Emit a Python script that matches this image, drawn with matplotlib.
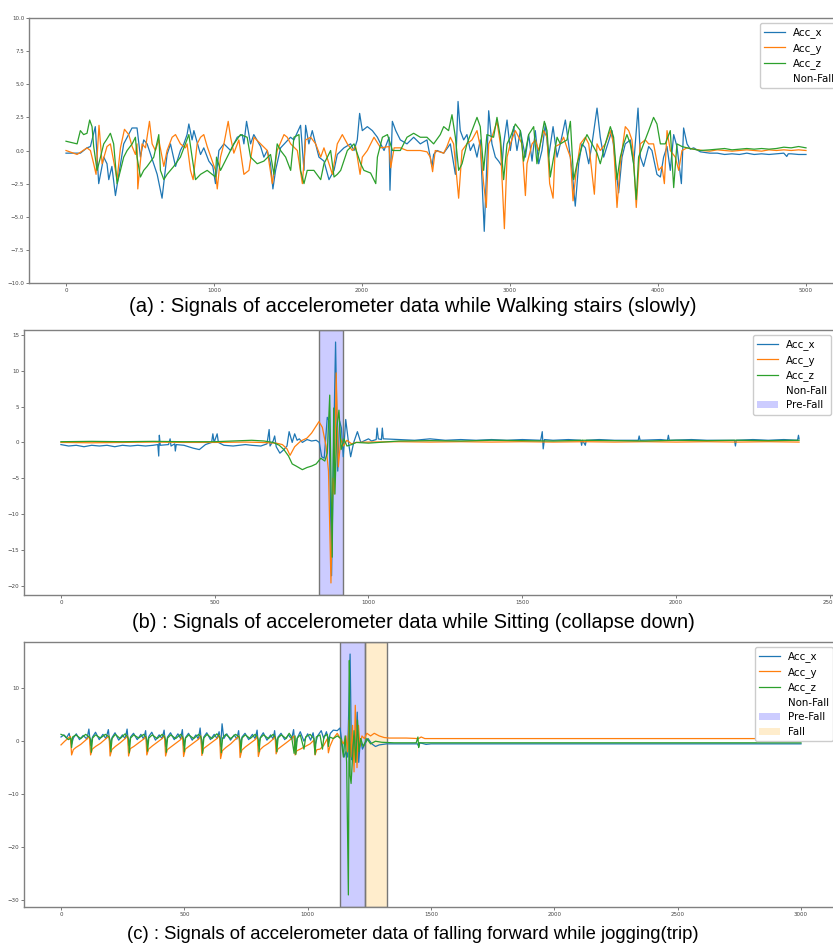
import matplotlib
matplotlib.use("Agg")
import matplotlib.pyplot as plt
from matplotlib.patches import Patch

# ---------------- Panel (a): Walking stairs (slowly) ----------------
A_ACC_X = [(0,-0.2),(97,-0.2),(142,0.2),(165,0.3),(198,1.8),(221,-2.5),(255,-0.5),(277,-1.0),(289,-2.2),
 (310,-1.2),(334,-3.4),(390,0.5),(446,1.7),(480,1.7),(503,-0.5),(525,0.8),(548,0.5),(616,-1.8),(649,-3.6),
 (683,-0.3),(706,0.5),(740,-1.2),(773,0.0),(796,0.5),(818,1.2),(830,2.0),(852,0.8),(864,1.5),(909,-0.3),
 (931,0.2),(965,-0.8),(992,-1.2),(1010,-2.5),(1033,0.0),(1067,0.5),(1112,0.0),(1157,1.0),(1191,1.2),
 (1202,0.5),(1220,2.2),(1247,0.5),(1269,1.2),(1315,0.3),(1337,-0.5),(1360,0.0),(1382,-1.0),(1398,-2.9),
 (1416,-1.5),(1450,0.2),(1517,1.0),(1540,0.8),(1585,1.9),(1608,-1.5),(1619,1.9),(1641,0.5),(1664,1.5),
 (1709,-0.5),(1743,-0.8),(1777,-2.2),(1811,-1.5),(1833,-0.3),(1878,0.2),(1923,0.5),(1946,0.0),(1968,0.8),
 (1984,2.8),(2002,1.5),(2036,1.8),(2070,1.5),(2104,1.0),(2126,0.5),(2149,0.0),(2183,1.0),(2189,-3.0),
 (2205,2.2),(2228,1.5),(2259,0.8),(2304,0.5),(2349,1.0),(2394,0.5),(2439,0.8),(2473,-1.2),(2484,-0.3),
 (2507,0.0),(2552,-0.2),(2597,0.5),(2631,-1.8),(2649,3.7),(2664,1.5),(2687,0.8),(2709,1.2),(2732,0.0),
 (2754,0.5),(2777,-0.5),(2799,0.8),(2826,-6.1),(2840,-2.0),(2856,3.0),(2878,0.5),(2901,-0.5),(2923,-0.8),
 (2946,-1.2),(2957,0.5),(2980,2.3),(3002,0.0),(3025,1.8),(3047,0.0),(3070,1.5),(3104,-0.5),(3126,1.2),
 (3149,-0.8),(3171,1.5),(3194,-1.0),(3216,0.0),(3239,2.0),(3261,-0.5),(3291,1.8),(3318,-0.5),(3340,0.5),
 (3374,2.3),(3396,0.5),(3419,-1.5),(3441,-4.2),(3464,-1.0),(3486,0.5),(3509,0.2),(3532,-1.0),(3554,0.5),
 (3588,3.2),(3610,1.0),(3633,-0.5),(3655,0.3),(3689,1.5),(3712,-1.0),(3734,-3.2),(3757,-0.5),(3779,0.5),
 (3813,0.8),(3836,-1.0),(3865,3.2),(3881,-0.5),(3903,-1.2),(3937,0.3),(3959,0.0),(3993,-1.8),(4016,-2.0),
 (4038,-0.5),(4061,0.3),(4083,-1.5),(4106,1.2),(4128,0.3),(4158,-2.5),(4173,1.7),(4196,0.5),(4218,0.1),
 (4241,0.2),(4286,-0.1),(4350,-0.2),(4400,-0.2),(4450,-0.3),(4500,-0.25),(4550,-0.3),(4600,-0.2),
 (4650,-0.3),(4700,-0.25),(4750,-0.3),(4800,-0.25),(4850,-0.2),(4870,-0.45),(4880,-0.25),(4900,-0.25),
 (4950,-0.3),(5000,-0.3)]

A_ACC_Y = [(0,0.0),(75,-0.3),(142,0.2),(165,0.0),(187,-1.0),(203,-1.8),(223,1.9),(244,-1.0),(277,0.3),
 (300,0.5),(334,-1.5),(345,-2.2),(368,0.2),(395,1.6),(424,1.2),(447,0.3),(469,-0.3),(480,0.5),(485,-2.9),
 (514,0.5),(537,0.2),(548,1.0),(564,2.2),(582,0.5),(604,0.0),(627,0.8),(649,-0.5),(661,-1.2),(683,0.0),
 (717,1.0),(740,1.2),(773,0.5),(807,0.2),(818,0.5),(841,-1.5),(859,-2.2),(886,0.5),(909,1.0),(931,1.2),
 (954,0.3),(1010,-1.5),(1022,-2.9),(1044,-0.5),(1067,0.5),(1096,2.2),(1112,1.0),(1134,-0.2),(1168,0.8),
 (1202,-1.8),(1236,-1.5),(1270,1.0),(1315,0.5),(1360,0.0),(1394,-2.5),(1427,0.0),(1473,1.2),(1495,1.0),
 (1518,0.5),(1563,0.0),(1597,-2.5),(1619,0.8),(1653,1.0),(1687,0.5),(1721,-0.5),(1743,0.2),(1777,-1.0),
 (1800,-1.8),(1833,0.5),(1867,1.2),(1901,0.5),(1935,0.0),(1957,0.3),(1987,-1.8),(2002,-0.5),(2036,0.0),
 (2081,1.0),(2126,0.2),(2183,0.3),(2194,-1.3),(2217,0.2),(2259,0.2),(2304,0.0),(2394,0.0),(2439,-0.1),
 (2461,-0.5),(2477,-1.6),(2495,0.0),(2552,-0.2),(2574,0.3),(2597,1.0),(2619,0.5),(2653,-3.6),(2676,0.0),
 (2709,0.5),(2743,0.8),(2777,1.5),(2799,0.3),(2822,-2.5),(2840,-4.3),(2856,0.5),(2878,1.0),(2912,2.2),
 (2935,0.5),(2962,-5.9),(2980,-0.5),(3002,0.5),(3036,1.5),(3059,1.0),(3081,0.5),(3104,-3.4),(3115,-1.0),
 (3149,0.5),(3171,0.8),(3194,0.0),(3227,1.5),(3250,1.0),(3268,-2.5),(3291,-3.6),(3306,0.3),(3340,0.5),
 (3362,1.0),(3385,0.2),(3408,-0.5),(3426,-3.8),(3448,-1.5),(3475,0.5),(3509,1.0),(3532,0.5),(3570,-3.3),
 (3588,0.5),(3610,0.0),(3644,0.5),(3678,1.5),(3700,0.5),(3723,-4.3),(3745,-1.0),(3779,1.8),(3802,1.5),
 (3824,0.8),(3835,-0.5),(3853,-4.3),(3880,0.5),(3914,0.8),(3937,0.5),(3970,0.5),(4004,-1.5),(4027,-1.2),
 (4043,-2.5),(4061,1.5),(4083,0.0),(4117,-0.5),(4140,-1.5),(4162,0.0),(4196,0.2),(4241,0.1),(4300,0.0),
 (4350,-0.05),(4400,0.05),(4450,0.0),(4500,-0.05),(4550,0.0),(4600,0.05),(4650,0.0),(4700,-0.05),
 (4750,0.05),(4800,0.0),(4850,0.05),(4900,0.0),(4950,0.05),(5000,0.0)]

A_ACC_Z = [(0,0.7),(75,0.5),(97,1.5),(119,1.2),(142,1.3),(160,2.3),(176,1.8),(187,0.3),(210,-1.5),(233,-0.5),
 (255,0.5),(273,0.8),(300,1.3),(322,0.5),(345,-2.5),(368,-1.5),(390,-0.5),(413,0.0),(447,0.5),(469,1.0),
 (480,-0.5),(503,-2.0),(525,-1.5),(548,-1.2),(593,-0.5),(627,1.2),(638,-1.5),(661,-2.2),(683,-1.8),
 (728,-1.2),(773,-0.5),(807,0.5),(830,1.2),(852,-0.5),(875,-2.2),(909,-1.8),(954,-1.5),(1010,-2.0),
 (1017,-0.5),(1044,-1.5),(1089,-0.5),(1134,0.5),(1179,1.2),(1224,1.0),(1247,-0.5),(1292,-1.0),(1337,-0.8),
 (1382,-0.3),(1405,-1.8),(1427,0.5),(1450,0.0),(1484,-0.5),(1518,-1.5),(1540,1.0),(1574,1.2),(1585,-1.5),
 (1608,-2.5),(1630,-1.5),(1675,-1.5),(1721,-2.2),(1743,-1.0),(1766,-0.5),(1788,0.0),(1811,-2.0),
 (1833,-1.8),(1856,-1.5),(1901,0.0),(1946,0.5),(1991,-1.0),(2013,-1.5),(2058,-1.7),(2093,-2.5),
 (2104,-0.5),(2138,1.0),(2172,1.2),(2206,0.0),(2259,0.0),(2304,1.0),(2349,1.3),(2394,1.0),(2439,1.0),
 (2484,0.5),(2529,1.2),(2552,1.8),(2585,1.5),(2608,2.7),(2631,1.0),(2653,-1.5),(2676,-1.0),(2709,0.5),
 (2743,1.5),(2777,2.5),(2799,1.8),(2822,-1.5),(2844,1.2),(2889,1.0),(2912,2.5),(2935,1.0),(2957,-2.2),
 (2980,0.5),(3002,1.0),(3036,2.0),(3070,1.5),(3092,-0.8),(3126,1.2),(3160,1.8),(3182,-1.0),(3205,0.5),
 (3232,2.2),(3250,1.5),(3272,-2.0),(3295,-0.5),(3318,1.0),(3340,0.5),(3385,0.8),(3408,2.2),(3430,-2.2),
 (3453,-1.0),(3486,0.3),(3520,1.2),(3554,0.5),(3588,-0.2),(3610,-1.0),(3644,0.5),(3678,1.8),(3700,1.0),
 (3723,-2.2),(3745,-0.5),(3768,0.5),(3790,1.2),(3813,0.5),(3835,-1.0),(3853,-3.7),(3869,-0.5),(3903,0.5),
 (3937,1.5),(3970,2.5),(3993,2.0),(4016,0.5),(4049,0.5),(4083,1.5),(4106,-2.8),(4128,0.5),(4162,0.3),
 (4196,0.2),(4241,0.1),(4286,0.0),(4350,0.05),(4400,0.1),(4450,0.15),(4500,0.05),(4550,0.1),(4600,0.15),
 (4650,0.1),(4700,0.15),(4750,0.1),(4800,0.15),(4850,0.25),(4900,0.2),(4950,0.3),(5000,0.2)]

# ---------------- Panel (b): Sitting (collapse down) ----------------
B_ACC_X = [(0,-0.3),(25,-0.5),(50,-0.4),(75,-0.6),(100,-0.4),(125,-0.5),(150,-0.4),(175,-0.6),(200,-0.4),
 (225,-0.5),(250,-0.4),(275,-0.5),(300,-0.4),(315,-0.3),(318,-1.9),(320,1.0),(323,-0.4),(350,-0.3),
 (355,0.5),(358,-0.5),(370,-0.2),(372,-1.2),(375,-0.3),(400,-0.4),(430,-0.8),(450,-1.0),(470,-0.3),
 (490,0.0),(494,1.2),(498,0.0),(508,1.2),(512,0.0),(530,-0.4),(560,-0.5),(600,-0.3),(620,-0.4),(650,-0.5),
 (670,-0.2),(677,1.8),(680,-0.5),(690,0.2),(695,0.9),(700,-0.6),(712,-1.5),(725,-1.0),(735,-0.5),(742,1.5),
 (752,0.0),(760,1.2),(768,0.3),(775,0.5),(785,0.0),(800,0.4),(815,0.2),(830,0.3),(840,0.0),(848,-2.0),
 (856,-2.2),(866,3.5),(872,3.0),(880,-18.6),(886,-2.0),(893,14.0),(900,-4.0),(906,3.0),(912,2.0),
 (918,-2.0),(926,3.2),(935,0.0),(942,-2.0),(952,0.0),(964,1.5),(975,0.0),(990,0.3),(1000,0.5),(1010,0.2),
 (1025,0.4),(1028,2.0),(1032,0.5),(1042,0.4),(1045,2.0),(1048,0.5),(1100,0.4),(1150,0.3),(1200,0.5),
 (1250,0.3),(1300,0.4),(1350,0.3),(1400,0.4),(1450,0.3),(1500,0.4),(1560,0.3),(1565,1.5),(1568,-0.9),
 (1572,0.4),(1600,0.3),(1650,0.4),(1690,0.3),(1693,-0.4),(1696,0.3),(1705,-0.4),(1708,0.3),(1750,0.4),
 (1800,0.3),(1877,0.3),(1880,0.9),(1883,0.3),(1950,0.4),(1972,0.3),(1975,1.0),(1978,0.3),(2050,0.4),
 (2100,0.3),(2190,0.3),(2193,-0.5),(2196,0.3),(2250,0.4),(2300,0.3),(2350,0.4),(2395,0.3),(2398,1.0),
 (2400,0.5)]

B_ACC_Y = [(0,0.0),(100,-0.05),(200,0.0),(300,0.05),(400,0.0),(500,0.0),(600,0.05),(650,0.0),(700,-0.1),
 (720,-0.3),(735,-0.9),(745,-1.8),(760,-0.6),(780,0.2),(800,0.6),(815,1.3),(830,2.3),(839,2.9),(850,2.1),
 (862,-0.5),(870,-4.0),(878,-19.6),(884,-5.0),(889,-7.2),(895,9.7),(902,-3.4),(910,0.5),(918,-0.5),
 (930,0.3),(945,-0.2),(960,0.0),(1000,0.05),(1100,0.1),(1200,0.05),(1300,0.1),(1400,0.05),(1500,0.1),
 (1600,0.05),(1700,0.1),(1800,0.05),(1900,0.1),(2000,0.05),(2100,0.1),(2200,0.05),(2300,0.1),(2400,0.05)]

B_ACC_Z = [(0,0.1),(100,0.15),(200,0.1),(300,0.15),(400,0.1),(500,0.1),(560,0.2),(620,0.3),(660,0.2),
 (690,0.0),(710,-0.4),(725,-1.0),(740,-1.9),(752,-3.0),(765,-3.3),(785,-3.8),(800,-3.5),(815,-3.3),
 (830,-3.0),(845,-2.2),(858,-2.6),(866,-1.5),(874,6.6),(878,-5.0),(882,-16.0),(887,4.8),(891,-7.2),
 (897,2.0),(904,4.5),(911,-1.0),(920,0.5),(930,-0.5),(945,-0.3),(960,0.0),(1000,-0.1),(1050,0.05),
 (1100,0.2),(1200,0.25),(1300,0.2),(1400,0.3),(1500,0.25),(1600,0.2),(1700,0.3),(1800,0.25),(1900,0.2),
 (2000,0.3),(2100,0.25),(2200,0.3),(2300,0.25),(2400,0.3)]

B_PREFALL = (840, 918)

# ---------------- Panel (c): falling forward while jogging (trip) ----------------
C_ACC_X = [(0,0.8),(12,1.2),(22,0.6),(33,1.5),(43,-0.6),(50,0.6),(62,1.4),(75,0.3),(90,1.1),(105,0.4),
 (113,2.3),(120,-0.8),(128,0.8),(140,1.7),(155,0.3),(170,1.3),(182,0.5),(192,2.2),(199,-0.9),(207,0.7),
 (219,1.6),(234,0.2),(249,1.2),(260,0.5),(268,2.3),(274,-0.8),(282,0.8),(294,1.5),(309,0.3),(324,1.3),
 (335,0.4),(343,2.0),(348,-0.7),(356,0.9),(368,1.7),(383,0.2),(398,1.2),(410,0.5),(418,2.1),(424,-1.0),
 (432,0.8),(444,1.6),(459,0.3),(474,1.4),(485,0.5),(492,2.2),(497,-0.8),(505,0.7),(517,1.5),(532,0.2),
 (547,1.2),(557,0.4),(564,2.5),(571,-1.2),(579,0.8),(591,1.6),(606,0.3),(621,1.3),(633,0.5),(641,1.8),
 (647,-1.0),(653,3.3),(660,0.5),(672,1.4),(687,0.2),(702,1.2),(713,0.4),(720,2.0),(726,-0.9),(734,0.8),
 (746,1.5),(761,0.3),(776,1.3),(787,0.5),(795,2.1),(800,-0.8),(808,0.7),(820,1.6),(835,0.2),(850,1.2),
 (860,0.4),(866,2.0),(872,-0.7),(880,0.8),(892,1.5),(907,0.3),(922,1.2),(935,0.4),(943,2.2),(949,-1.5),
 (957,0.5),(970,1.8),(985,0.0),(1000,1.4),(1012,0.2),(1022,1.6),(1030,-0.8),(1040,1.0),(1055,2.0),
 (1065,0.5),(1076,1.8),(1084,0.2),(1092,1.5),(1104,2.1),(1120,2.0),(1131,2.5),(1140,-0.5),(1148,-3.0),
 (1155,-2.0),(1162,-3.0),(1172,16.5),(1178,-3.5),(1185,1.0),(1190,-2.5),(1201,5.5),(1207,-4.0),(1214,0.5),
 (1222,-1.5),(1232,-0.5),(1245,0.5),(1260,-0.5),(1275,-1.0),(1290,-0.7),(1320,-0.5),(1400,-0.5),
 (1445,-0.5),(1450,-1.0),(1455,-0.3),(1480,-0.6),(1500,-0.5),(1600,-0.5),(1800,-0.5),(2000,-0.5),
 (2200,-0.5),(2400,-0.5),(2600,-0.5),(2800,-0.5),(3000,-0.5)]

C_ACC_Y = [(0,-0.7),(15,0.0),(30,0.6),(38,0.9),(43,-2.6),(50,-1.6),(60,-1.2),(80,-0.6),(100,0.2),(115,0.9),
 (120,-2.6),(127,-1.5),(140,-1.0),(160,-0.4),(180,0.4),(195,1.0),(199,-2.8),(206,-1.6),(220,-1.0),
 (240,-0.3),(260,0.5),(270,1.0),(274,-2.8),(281,-1.4),(295,-1.0),(315,-0.3),(335,0.4),(344,0.9),
 (348,-2.6),(355,-1.5),(370,-0.9),(390,-0.2),(410,0.5),(420,1.0),(424,-2.8),(431,-1.6),(445,-1.1),
 (465,-0.4),(485,0.3),(493,0.9),(497,-2.9),(504,-1.5),(518,-1.0),(538,-0.3),(558,0.4),(567,1.0),
 (571,-2.7),(578,-1.4),(592,-0.9),(612,-0.2),(632,0.5),(643,1.1),(647,-3.3),(654,-1.8),(668,-1.2),
 (688,-0.5),(708,0.4),(722,1.0),(726,-3.1),(733,-1.7),(747,-1.1),(767,-0.4),(787,0.3),(796,0.9),
 (800,-2.9),(807,-1.6),(821,-1.0),(841,-0.4),(860,0.4),(868,0.9),(872,-2.4),(879,-1.5),(893,-1.0),
 (913,-0.3),(935,0.5),(945,1.0),(949,-2.6),(956,-1.8),(970,-1.5),(990,-1.0),(1010,-0.5),(1025,0.2),
 (1030,-2.6),(1037,-1.6),(1050,-1.5),(1065,-0.8),(1080,0.5),(1084,-2.2),(1090,-1.0),(1104,0.5),
 (1120,1.5),(1132,0.5),(1145,-0.5),(1155,1.0),(1162,-2.0),(1168,4.0),(1175,-3.0),(1182,3.0),(1188,-5.8),
 (1193,6.8),(1200,-5.0),(1206,3.0),(1212,-1.0),(1220,1.0),(1230,0.5),(1240,1.5),(1255,1.0),(1270,1.5),
 (1290,1.0),(1310,0.7),(1330,0.6),(1400,0.6),(1450,0.5),(1460,0.8),(1475,0.5),(1600,0.5),(1800,0.5),
 (2000,0.5),(2200,0.5),(2400,0.5),(2600,0.5),(2800,0.5),(3000,0.5)]

C_ACC_Z = [(0,1.3),(15,1.0),(30,0.3),(40,0.6),(43,-1.2),(47,0.8),(60,1.2),(80,0.5),(100,1.3),(115,0.8),
 (120,0.3),(123,-2.1),(128,0.6),(140,1.2),(160,0.6),(180,1.3),(195,0.8),(199,0.2),(202,-2.0),(207,0.5),
 (220,1.3),(240,0.5),(260,1.4),(270,0.8),(274,0.3),(277,-2.2),(282,0.6),(295,1.2),(315,0.6),(335,1.3),
 (344,0.8),(348,0.2),(351,-1.9),(356,0.6),(370,1.2),(390,0.5),(410,1.3),(420,0.8),(424,0.2),(427,-2.1),
 (432,0.6),(445,1.2),(465,0.5),(485,1.3),(493,0.8),(497,0.2),(500,-2.0),(505,0.6),(518,1.2),(538,0.5),
 (558,1.3),(567,0.8),(571,0.2),(574,-2.3),(579,0.6),(592,1.3),(612,0.5),(632,1.4),(643,0.8),(647,0.2),
 (650,-2.2),(655,0.6),(668,1.3),(688,0.5),(708,1.3),(722,0.8),(726,0.2),(729,-2.1),(734,0.6),(747,1.2),
 (767,0.5),(787,1.3),(796,0.8),(800,0.2),(803,-2.0),(808,0.6),(821,1.2),(841,0.5),(860,1.3),(868,0.8),
 (872,0.2),(875,-2.0),(880,0.6),(893,1.2),(913,0.5),(925,1.5),(935,0.8),(945,-2.3),(949,1.0),(952,-2.5),
 (958,0.6),(970,1.2),(985,-1.5),(992,0.8),(1010,1.3),(1025,0.5),(1030,-2.5),(1035,0.8),(1050,1.2),
 (1060,-1.5),(1066,0.9),(1080,1.3),(1084,-1.0),(1090,0.8),(1104,0.5),(1120,1.0),(1135,0.5),(1145,-3.0),
 (1152,1.0),(1158,-4.0),(1165,-29.1),(1169,15.3),(1172,-6.5),(1176,-8.0),(1182,-3.0),(1188,2.0),
 (1195,-4.0),(1202,4.0),(1208,-2.0),(1215,0.5),(1225,-1.0),(1240,0.5),(1255,-0.5),(1275,0.0),(1300,-0.2),
 (1350,-0.3),(1440,-0.3),(1447,0.8),(1450,-1.2),(1453,-0.3),(1600,-0.3),(1800,-0.3),(2000,-0.3),
 (2200,-0.3),(2400,-0.3),(2600,-0.3),(2800,-0.3),(3000,-0.3)]

C_PREFALL = (1132, 1232)
C_FALL = (1232, 1320)

TITLES = ["(a) : Signals of accelerometer data while Walking stairs (slowly)",
          "(b) : Signals of accelerometer data while Sitting (collapse down)",
          "(c) : Signals of accelerometer data of falling forward while jogging(trip)"]
TITLE_SIZES = [14.6, 14.3, 13.3]
SERIES_LABELS = ["Acc_x", "Acc_y", "Acc_z"]
COLORS = ["#1f77b4", "#ff7f0e", "#2ca02c"]
PRE_COLOR = (0.0, 0.0, 1.0, 0.2)
FALL_COLOR = (1.0, 0.647, 0.0, 0.2)

W, H = 833, 947
fig = plt.figure(figsize=(W / 100, H / 100), dpi=100)

def px_axes(left, right, top, bottom):
    return fig.add_axes([left / W, 1 - bottom / H, (right - left) / W, (bottom - top) / H])

axes = [px_axes(29, 843, 18, 283), px_axes(24, 836, 330, 595), px_axes(24, 838, 642, 907)]
data = [(A_ACC_X, A_ACC_Y, A_ACC_Z), (B_ACC_X, B_ACC_Y, B_ACC_Z), (C_ACC_X, C_ACC_Y, C_ACC_Z)]
spans = [[], [("Pre-Fall", B_PREFALL, PRE_COLOR)],
         [("Pre-Fall", C_PREFALL, PRE_COLOR), ("Fall", C_FALL, FALL_COLOR)]]
title_y = [306, 622, 934]

for i, ax in enumerate(axes):
    for series, lab, col in zip(data[i], SERIES_LABELS, COLORS):
        t, v = zip(*series)
        ax.plot(t, v, color=col, lw=0.9, label=lab, zorder=3)
    handles, labels = ax.get_legend_handles_labels()
    handles.append(Patch(facecolor="white", edgecolor="none"))
    labels.append("Non-Fall")
    for name, (s0, s1), col in spans[i]:
        ax.axvspan(s0, s1, facecolor=col, edgecolor="#777777", lw=1.0, zorder=2)
        handles.append(Patch(facecolor=col, edgecolor="none"))
        labels.append(name)
    if i == 0:
        ax.set_ylim(-10, 10)
    ax.legend(handles, labels, loc="upper right", fontsize=7.4, framealpha=1.0,
              handlelength=2.0, labelspacing=0.45)
    ax.tick_params(labelsize=4, length=2, width=0.5, colors="#444444", pad=1.5)
    for sp in ax.spines.values():
        sp.set_color("#808080")
        sp.set_linewidth(1.0)
    fig.text(0.496, 1 - title_y[i] / H, TITLES[i], ha="center", va="center",
             fontsize=TITLE_SIZES[i], family=["Liberation Sans", "DejaVu Sans"])

fig.savefig("out.png", dpi=100)
